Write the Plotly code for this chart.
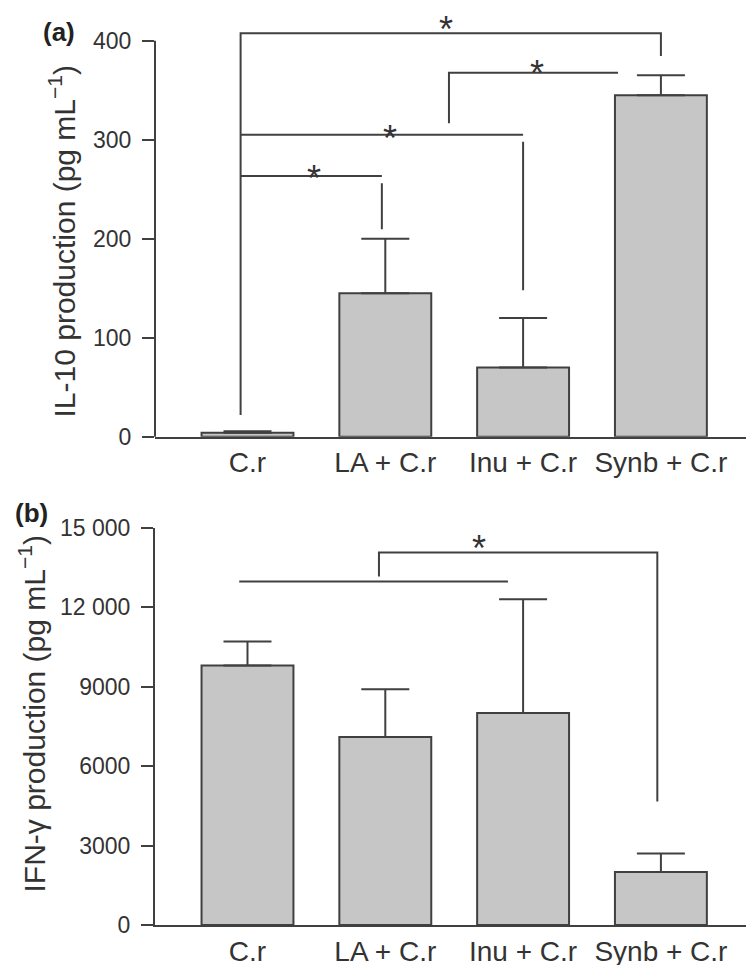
import plotly.graph_objects as go

# ---------------- data ----------------
categories = ["C.r", "LA + C.r", "Inu + C.r", "Synb + C.r"]

il10_mean = [4, 145, 70, 345]
il10_se = [1.5, 55, 50, 20]

ifng_mean = [9800, 7100, 8000, 2000]
ifng_se = [900, 1800, 4300, 700]

il10_ticks = [0, 100, 200, 300, 400]
il10_ticktext = ["0", "100", "200", "300", "400"]
ifng_ticks = [0, 3000, 6000, 9000, 12000, 15000]
ifng_ticktext = ["0", "3000", "6000", "9000", "12 000", "15 000"]

# significance brackets: polylines in (category position, value) units
il10_brackets = [
    [(-0.05, 22), (-0.05, 407.5), (3.0, 407.5), (3.0, 384.5)],
    [(-0.05, 305), (2.0, 305)],
    [(2.0, 298), (2.0, 148)],
    [(-0.05, 263.3), (0.975, 263.3)],
    [(0.975, 256), (0.975, 209.5)],
    [(1.462, 316.5), (1.462, 367.7), (2.689, 367.7)],
]
il10_stars = [(1.44, 420.9), (1.032, 309.8), (0.483, 269.9), (2.101, 375.5)]

ifng_brackets = [
    [(-0.06, 12970), (1.89, 12970)],
    [(0.954, 13160), (0.954, 14066), (2.974, 14066), (2.974, 4660)],
]
ifng_stars = [(1.68, 14546)]

# ---------------- style ----------------
FONT = "Liberation Sans"
TXT = "#333333"
LINE = "#404040"
FILL = "#c6c6c6"

W, H = 746, 965
x_dom = [155 / W, 1.0]
x_rng = [-0.6712, 3.6175]
top_dom = [1 - 436.7 / H, 1 - 15.95 / H]
top_rng = [0, 425]
bot_dom = [1 - 925 / H, 1 - 527.7 / H]
bot_rng = [0, 15000]

xpos = list(range(len(categories)))

fig = go.Figure()

def add_bars(y, se, xa, ya):
    fig.add_trace(go.Bar(
        x=xpos, y=y, width=0.667, xaxis=xa, yaxis=ya,
        marker=dict(color=FILL, line=dict(color=LINE, width=2)),
        error_y=dict(type="data", array=se, arrayminus=[0] * len(se), symmetric=False,
                     thickness=2, width=24, color=LINE),
        showlegend=False, hoverinfo="skip",
    ))

def add_brackets(brs, xa, ya):
    xs, ys = [], []
    for poly in brs:
        for (a, b) in poly:
            xs.append(a)
            ys.append(b)
        xs.append(None)
        ys.append(None)
    fig.add_trace(go.Scatter(x=xs, y=ys, mode="lines", xaxis=xa, yaxis=ya,
                             line=dict(color=LINE, width=2), showlegend=False,
                             hoverinfo="skip"))

add_bars(il10_mean, il10_se, "x", "y")
add_brackets(il10_brackets, "x", "y")
add_bars(ifng_mean, ifng_se, "x2", "y2")
add_brackets(ifng_brackets, "x2", "y2")

annots = []
for (a, b) in il10_stars:
    annots.append(dict(x=a, y=b, xref="x", yref="y", text="*", showarrow=False,
                       font=dict(family=FONT, size=36, color=TXT),
                       xanchor="center", yanchor="middle", yshift=-9))
for (a, b) in ifng_stars:
    annots.append(dict(x=a, y=b, xref="x2", yref="y2", text="*", showarrow=False,
                       font=dict(family=FONT, size=36, color=TXT),
                       xanchor="center", yanchor="middle", yshift=-9))

annots.append(dict(x=63 / W, y=1 - 241.5 / H, xref="paper", yref="paper",
                   text="IL-10 production (pg mL<sup>−1</sup>)", textangle=-90,
                   showarrow=False, xanchor="center", yanchor="middle",
                   font=dict(family=FONT, size=30, color=TXT)))
annots.append(dict(x=32.5 / W, y=1 - 714 / H, xref="paper", yref="paper",
                   text="IFN-γ production (pg mL<sup>−1</sup>)", textangle=-90,
                   showarrow=False, xanchor="center", yanchor="middle",
                   font=dict(family=FONT, size=30, color=TXT)))
annots.append(dict(x=59 / W, y=1 - 32 / H, xref="paper", yref="paper", text="<b>(a)</b>",
                   showarrow=False, xanchor="center", yanchor="middle",
                   font=dict(family=FONT, size=26, color="#222222")))
annots.append(dict(x=31 / W, y=1 - 513 / H, xref="paper", yref="paper", text="<b>(b)</b>",
                   showarrow=False, xanchor="center", yanchor="middle",
                   font=dict(family=FONT, size=26, color="#222222")))

# top-panel y axis line only up to 400
top_line_y1 = top_dom[0] + (400 - top_rng[0]) / (top_rng[1] - top_rng[0]) * (top_dom[1] - top_dom[0])
shapes = [dict(type="line", xref="paper", yref="paper", x0=x_dom[0], x1=x_dom[0],
               y0=top_dom[0], y1=top_line_y1, line=dict(color=LINE, width=2))]

xaxis_common = dict(domain=x_dom, range=x_rng, tickvals=xpos, ticktext=categories,
                    showline=True, linecolor=LINE, linewidth=2, ticks="",
                    showgrid=False, zeroline=False, fixedrange=True, automargin=False,
                    tickfont=dict(family=FONT, size=28, color=TXT))
yaxis_common = dict(showgrid=False, zeroline=False, ticks="outside", ticklen=12,
                    tickwidth=2, tickcolor=LINE, linecolor=LINE, linewidth=2,
                    automargin=False, fixedrange=True,
                    tickfont=dict(family=FONT, size=23, color=TXT), ticklabelstandoff=6)

fig.update_layout(
    template="none",
    width=W, height=H, autosize=False,
    margin=dict(l=0, r=0, t=0, b=0, pad=0),
    paper_bgcolor="white", plot_bgcolor="white",
    barmode="overlay",
    xaxis=dict(**xaxis_common, anchor="y"),
    yaxis=dict(**yaxis_common, domain=top_dom, range=top_rng, tickvals=il10_ticks,
               ticktext=il10_ticktext, showline=False, anchor="x"),
    xaxis2=dict(**xaxis_common, anchor="y2"),
    yaxis2=dict(**yaxis_common, domain=bot_dom, range=bot_rng, tickvals=ifng_ticks,
                ticktext=ifng_ticktext, showline=True, anchor="x2"),
    annotations=annots,
    shapes=shapes,
)

fig.write_html(
    "out.html",
    config={"displayModeBar": False, "staticPlot": True},
    post_script="document.body.style.margin='0';document.body.style.overflow='hidden';",
)
